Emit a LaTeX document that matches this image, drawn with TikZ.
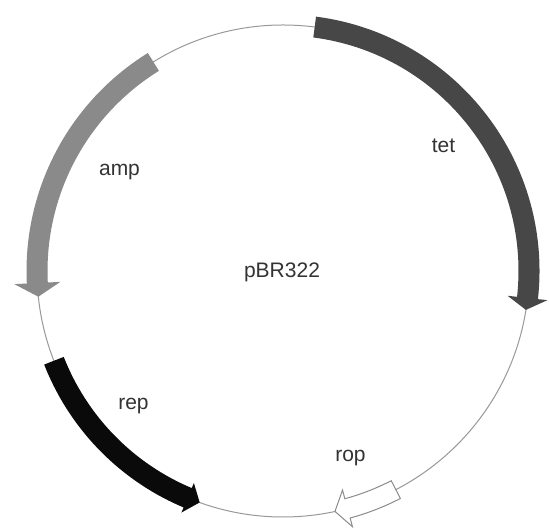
\documentclass[tikz,border=0pt]{standalone}
\usepackage{fontspec}
\setmainfont{Liberation Sans}
\definecolor{tetcol}{HTML}{474747}
\definecolor{ampcol}{HTML}{8A8A8A}
\definecolor{repcol}{HTML}{0A0A0A}
\definecolor{ringcol}{HTML}{999999}
\definecolor{ropcol}{HTML}{8C8C8C}
\definecolor{txtcol}{HTML}{333333}
% #1 start angle, #2 head base angle, #3 tip angle, #4 band half width, #5 head half width
\newcommand{\genearrow}[6][]{%
  \path[#1] (#2:{246+#5}) arc[start angle=#2, end angle=#3, radius={246+#5}]
    -- (#3:{246+#6}) -- (#4:246) -- (#3:{246-#6}) -- (#3:{246-#5})
    arc[start angle=#3, end angle=#2, radius={246-#5}] -- cycle;}
\tikzset{
  lbl/.style={anchor=base, text=txtcol, font=\fontsize{21}{25}\selectfont, inner sep=0pt},
  ring/.style={draw=ringcol, line width=1pt},
}
\begin{document}
\begin{tikzpicture}[x=1pt,y=1pt]
\useasboundingbox[fill=white] (0,0) rectangle (549,532);
\begin{scope}[shift={(283,261)}]
  \draw[ring] (0,0) circle[radius=246];
  \genearrow[fill=tetcol]{82.6}{-6.3}{-9.1}{10.5}{20}
  \genearrow[fill=ampcol]{121.8}{182.8}{186}{10.5}{23}
  \genearrow[fill=repcol]{201.4}{247.2}{250.2}{10.5}{16}
  \genearrow[fill=white, draw=ropcol, line width=1pt, line join=miter]{-62.7}{-74.8}{-77.8}{10}{19}
\end{scope}
\node[lbl] (plasmid) at (282,254) {pBR322};
\node[lbl] (amp) at (119.5,356) {amp};
\node[lbl] (tet) at (443.5,379) {tet};
\node[lbl] (rop) at (350.5,70) {rop};
\node[lbl] (rep) at (133.5,122) {rep};
\end{tikzpicture}
\end{document}
